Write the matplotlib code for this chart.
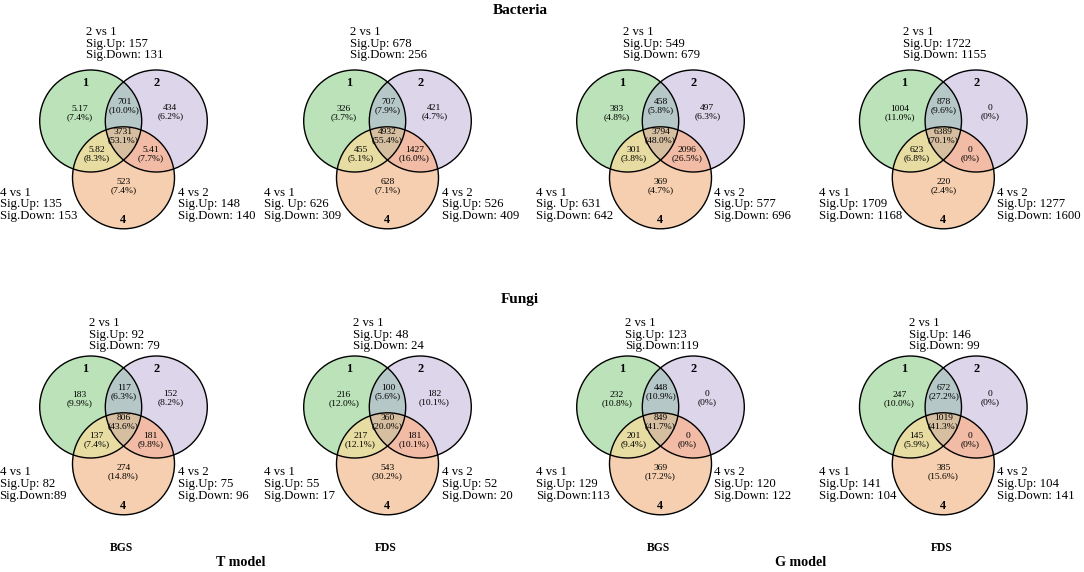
import numpy as np
import matplotlib
matplotlib.use("Agg")
import matplotlib.pyplot as plt
from matplotlib.patches import Circle, Polygon

plt.rcParams['font.family'] = ['Liberation Serif', 'DejaVu Serif']

# panel order: Bacteria BGS/FDS (T), BGS/FDS (G), then Fungi the same
panel_names = ["BGS", "FDS", "BGS", "FDS"]
model_names = ["T model", "G model"]
row_titles = ["Bacteria", "Fungi"]

# region counts: 1 only, 1&2, 2 only, 1&4, 1&2&4, 2&4, 4 only
counts = [
    ["5.17", "701", "434", "5.82", "3731", "5.41", "523"],
    ["326", "707", "421", "455", "4932", "1427", "628"],
    ["383", "458", "497", "301", "3794", "2096", "369"],
    ["1004", "878", "0", "623", "6389", "0", "220"],
    ["183", "117", "152", "137", "806", "181", "274"],
    ["216", "100", "182", "217", "360", "181", "543"],
    ["232", "448", "0", "201", "849", "0", "369"],
    ["247", "672", "0", "145", "1019", "0", "385"],
]
percents = [
    [7.4, 10.0, 6.2, 8.3, 53.1, 7.7, 7.4],
    [3.7, 7.9, 4.7, 5.1, 55.4, 16.0, 7.1],
    [4.8, 5.8, 6.3, 3.8, 48.0, 26.5, 4.7],
    [11.0, 9.6, 0, 6.8, 70.1, 0, 2.4],
    [9.9, 6.3, 8.2, 7.4, 43.6, 9.8, 14.8],
    [12.0, 5.6, 10.1, 12.1, 20.0, 10.1, 30.2],
    [10.8, 10.9, 0, 9.4, 41.7, 0, 17.2],
    [10.0, 27.2, 0, 5.9, 41.3, 0, 15.6],
]

# comparison labels (kept as printed in the figure)
cmp_2v1 = [
    ("Sig.Up: 157", "Sig.Down: 131"), ("Sig.Up: 678", "Sig.Down: 256"),
    ("Sig.Up: 549", "Sig.Down: 679"), ("Sig.Up: 1722", "Sig.Down: 1155"),
    ("Sig.Up: 92", "Sig.Down: 79"), ("Sig.Up: 48", "Sig.Down: 24"),
    ("Sig.Up: 123", "Sig.Down:119"), ("Sig.Up: 146", "Sig.Down: 99"),
]
cmp_4v1 = [
    ("Sig.Up: 135", "Sig.Down: 153"), ("Sig. Up: 626", "Sig.Down: 309"),
    ("Sig. Up: 631", "Sig.Down: 642"), ("Sig.Up: 1709", "Sig.Down: 1168"),
    ("Sig.Up: 82", "Sig.Down:89"), ("Sig.Up: 55", "Sig.Down: 17"),
    ("Sig.Up: 129", "Sig.Down:113"), ("Sig.Up: 141", "Sig.Down: 104"),
]
cmp_4v2 = [
    ("Sig.Up: 148", "Sig.Down: 140"), ("Sig.Up: 526", "Sig.Down: 409"),
    ("Sig.Up: 577", "Sig.Down: 696"), ("Sig.Up: 1277", "Sig.Down: 1600"),
    ("Sig.Up: 75", "Sig.Down: 96"), ("Sig.Up: 52", "Sig.Down: 20"),
    ("Sig.Up: 120", "Sig.Down: 122"), ("Sig.Up: 104", "Sig.Down: 141"),
]

# colours of the regions
col_1, col_2, col_4 = "#bbe2b8", "#ddd5ea", "#f5cfaf"
col_12, col_14, col_24, col_124 = "#b6c7c7", "#e7dca1", "#f1bba5", "#d6bea0"

W, H = 1084, 572
fig = plt.figure(figsize=(W / 100, H / 100), dpi=100)
ax = fig.add_axes([0, 0, 1, 1])
ax.set_xlim(0, W)
ax.set_ylim(H, 0)
ax.axis('off')
renderer = fig.canvas.get_renderer()

R = 51.0
DX = 32.8
DY = 56.8
col_x = [123.5, 387.5, 660.5, 943.3]
row_y = [121.0, 407.0]

fs_cmp = 9.2
fs_reg = 6.8
fs_lab = 8.8


def circle_pts(c, r, n=900):
    t = np.linspace(0, 2 * np.pi, n, endpoint=False)
    return np.column_stack([c[0] + r * np.cos(t), c[1] + r * np.sin(t)])


def inter_poly(cs, r):
    pts = np.vstack([circle_pts(c, r) for c in cs])
    keep = np.ones(len(pts), bool)
    for c in cs:
        keep &= np.hypot(pts[:, 0] - c[0], pts[:, 1] - c[1]) <= r + 1e-6
    p = pts[keep]
    m = p.mean(axis=0)
    ang = np.arctan2(p[:, 1] - m[1], p[:, 0] - m[0])
    return p[np.argsort(ang)]


def pct(v):
    return "(0%)" if v == 0 else f"({v:.1f}%)"


def block(x, y0, lines, pitch, mode):
    ts = [ax.text(0, y0 + i * pitch, s, fontsize=fs_cmp, ha='left', va='baseline', zorder=6)
          for i, s in enumerate(lines)]
    w = max(t.get_window_extent(renderer).width for t in ts)
    left = x - w / 2 if mode == 'center' else x
    for t in ts:
        t.set_x(left)


for k in range(8):
    row, col = divmod(k, 4)
    cx, cy = col_x[col], row_y[row]
    c1 = (cx - DX, cy)
    c2 = (cx + DX, cy)
    c4 = (cx, cy + DY)

    for c, fc in [(c1, col_1), (c2, col_2), (c4, col_4)]:
        ax.add_patch(Circle(c, R, facecolor=fc, edgecolor='none', zorder=1))
    for cs, fc in [((c1, c2), col_12), ((c1, c4), col_14), ((c2, c4), col_24)]:
        ax.add_patch(Polygon(inter_poly(cs, R), closed=True, facecolor=fc,
                             edgecolor='none', zorder=2))
    ax.add_patch(Polygon(inter_poly((c1, c2, c4), R), closed=True, facecolor=col_124,
                         edgecolor='none', zorder=3))
    for c in (c1, c2, c4):
        ax.add_patch(Circle(c, R, fill=False, edgecolor='black', lw=1.0, zorder=4))

    # region labels
    spots = [(c1[0] - 11, cy - 9), (cx + 0.5, cy - 16), (c2[0] + 14, cy - 10),
             (cx - 27, cy + 32.3), (cx, cy + 13.5), (cx + 27, cy + 32.3),
             (cx, c4[1] + 7.5)]
    for (px, py), n, p in zip(spots, counts[k], percents[k]):
        ax.text(px, py - 4.1 + 3.2, n, fontsize=fs_reg, ha='center', va='baseline', zorder=6)
        ax.text(px, py + 4.1 + 3.2, pct(p), fontsize=fs_reg, ha='center', va='baseline', zorder=6)

    # set labels
    lab_dy = -38.5
    ax.text(c1[0] - 6, cy + lab_dy + 4.0, "1", fontsize=fs_lab, fontweight='bold',
            ha='center', va='baseline', zorder=6)
    ax.text(c2[0] + 0.7, cy + lab_dy + 4.0, "2", fontsize=fs_lab, fontweight='bold',
            ha='center', va='baseline', zorder=6)
    ax.text(cx - 0.5, c4[1] + 40.8 + 4.0, "4", fontsize=fs_lab, fontweight='bold',
            ha='center', va='baseline', zorder=6)

    # comparison blocks
    if row == 0:
        top0, bot0, pitch = -90.3, 70.7, 11.6
    else:
        top0, bot0, pitch = -85.3, 64.0, 11.8
    block(cx + 1, cy + top0 + 4.2, ["2 vs 1", *cmp_2v1[k]], pitch, 'center')
    block(cx - 124, cy + bot0 + 4.2, ["4 vs 1", *cmp_4v1[k]], pitch, 'left')
    block(cx + 54, cy + bot0 + 4.2, ["4 vs 2", *cmp_4v2[k]], pitch, 'left')

# titles
ax.text(520, 8.5 + 5, row_titles[0], fontsize=11, fontweight='bold', ha='center', va='baseline')
ax.text(520, 298 + 5, row_titles[1], fontsize=11, fontweight='bold', ha='center', va='baseline')
for col in range(4):
    ax.text(col_x[col] - 2, 546.7 + 3.9, panel_names[col], fontsize=8.4, fontweight='bold',
            ha='center', va='baseline')
ax.text(241, 561.7 + 4.7, model_names[0], fontsize=10.2, fontweight='bold', ha='center', va='baseline')
ax.text(801, 561.7 + 4.7, model_names[1], fontsize=10.2, fontweight='bold', ha='center', va='baseline')

fig.savefig("out.png", dpi=100)
